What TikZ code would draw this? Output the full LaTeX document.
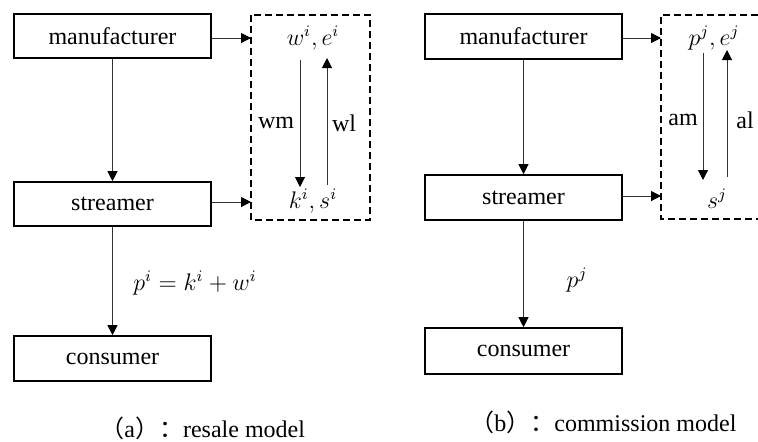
\documentclass[tikz,border=0pt]{standalone}
\usepackage{fontspec}
\setmainfont{Liberation Serif}
\newfontfamily\cjk{Noto Sans CJK SC}
\usetikzlibrary{arrows.meta,calc}
\begin{document}
\begin{tikzpicture}[x=0.5pt,y=-0.5pt,
  actor/.style={draw=black,line width=0.8pt,minimum width=98.5pt,minimum height=22pt,
    inner sep=0pt,font=\fontsize{12}{14}\selectfont},
  flow/.style={draw=black!80,line width=0.5pt,
    -{Triangle[length=5pt,width=5pt,color=black]}},
  infobox/.style={draw=black,line width=0.9pt,dash pattern=on 3.5pt off 2pt},
  lbl/.style={inner sep=0pt,font=\fontsize{12}{14}\selectfont},
  caption/.style={inner sep=0pt,anchor=west,font=\fontsize{12}{14}\selectfont}]
\useasboundingbox (0,0) rectangle (758,441);

% ---------- (a) resale model ----------
\node[actor] (mfA)  at (112.5,36)  {manufacturer};
\node[actor] (strA) at (112.5,204) {streamer};
\node[actor,minimum height=22.5pt] (conA) at (112.5,358.5) {consumer};

\draw[infobox] (251,15) rectangle (370,220);
\coordinate (dA1) at (251,38);
\coordinate (dA2) at (251,202);

\node[lbl] (weA) at (313,38)  {$w^{i},e^{i}$};
\node[lbl] (ksA) at (313,201) {$k^{i},s^{i}$};
\node[lbl] (wm)  at (276,123) {wm};
\node[lbl] (wl)  at (344,123) {wl};

\coordinate (wmTop) at (300,60);
\coordinate (wmBot) at (300,187);
\coordinate (wlBot) at (327,185);
\coordinate (wlTop) at (327,58);

\draw[flow] (mfA.south) -- (strA.north);
\draw[flow] (strA.south) -- (conA.north);
\draw[flow] (mfA.east |- dA1) -- (dA1);
\draw[flow] (strA.east |- dA2) -- (dA2);
\draw[flow] (wmTop) -- (wmBot);
\draw[flow] (wlBot) -- (wlTop);

\node[lbl] (priceA) at (195,283) {$p^{i}=k^{i}+w^{i}$};
\node[caption] (capA) at (100,428) {{\cjk （}a{\cjk ）：}resale model};

% ---------- (b) commission model ----------
\node[actor,minimum height=22.5pt] (mfB)  at (523.5,36.5)  {manufacturer};
\node[actor,minimum height=22.5pt] (strB) at (523.5,197.5) {streamer};
\node[actor,minimum height=23pt]   (conB) at (523.5,351)   {consumer};

\draw[infobox] (758,15) -- (661,15) -- (661,219) -- (758,219);
\coordinate (dB1) at (661,38);
\coordinate (dB2) at (661,196);

\node[lbl] (peB) at (714,38)  {$p^{j},e^{j}$};
\node[lbl] (sB)  at (717,199) {$s^{j}$};
\node[lbl] (am)  at (683,120) {am};
\node[lbl] (al)  at (745,120) {al};

\coordinate (amTop) at (703,53);
\coordinate (amBot) at (703,180);
\coordinate (alBot) at (727,177);
\coordinate (alTop) at (727,50);

\draw[flow] (mfB.south) -- (strB.north);
\draw[flow] (strB.south) -- (conB.north);
\draw[flow] (mfB.east |- dB1) -- (dB1);
\draw[flow] (strB.east |- dB2) -- (dB2);
\draw[flow] (amTop) -- (amBot);
\draw[flow] (alBot) -- (alTop);

\node[lbl] (priceB) at (577,280) {$p^{j}$};
\node[caption] (capB) at (470,422) {{\cjk （}b{\cjk ）：}commission model};
\end{tikzpicture}
\end{document}
